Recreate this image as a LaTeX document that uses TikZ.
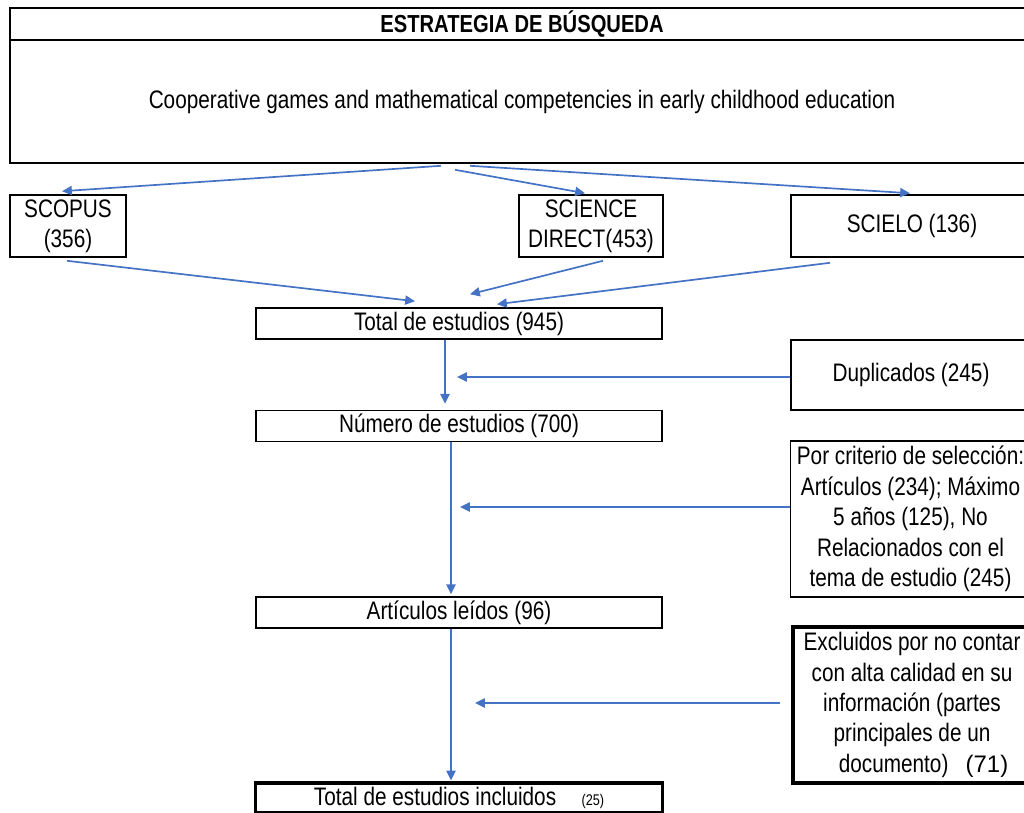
\documentclass[tikz,border=0pt]{standalone}
\usepackage{fontspec}
\setmainfont[FakeStretch=0.82]{Liberation Sans}
\newfontfamily\plainfont{Liberation Sans}
\usetikzlibrary{arrows.meta}
\definecolor{flowblue}{RGB}{68,114,196}
\tikzset{
  box/.style={draw, line width=1.1pt, inner sep=0pt, align=center,
    font=\fontsize{18}{21.6}\selectfont},
  heavybox/.style={box, line width=2.2pt},
  flow/.style={draw=flowblue, line width=1.2pt, -{Triangle[length=7pt,width=6.5pt]}},
}
\begin{document}
\begin{tikzpicture}[x=0.025cm, y=-0.025cm]
  \useasboundingbox (0,0) rectangle (1024,812);
  \clip (0,0) rectangle (1024,812);
  \node[box, minimum width=25.6cm, minimum height=0.8cm, font=\bfseries\fontsize{17.5}{21}\selectfont] (title) at (522,24) {ESTRATEGIA DE BÚSQUEDA};
  \node[box, minimum width=25.6cm, minimum height=3.075cm] (query) at (522,101.5) {Cooperative games and mathematical competencies in early childhood education};
  \node[box, minimum width=2.9cm, minimum height=1.55cm] (scopus) at (68,226) {SCOPUS\\(356)};
  \node[box, minimum width=3.6cm, minimum height=1.55cm] (scidir) at (591,226) {SCIENCE\\DIRECT(453)};
  \node[box, minimum width=6.05cm, minimum height=1.55cm] (scielo) at (912,226) {SCIELO (136)};
  \node[box, minimum width=10.15cm, minimum height=0.775cm] (total) at (459,323.5) {Total de estudios (945)};
  \node[box, minimum width=6cm, minimum height=1.75cm] (dupl) at (911,375) {Duplicados (245)};
  \node[box, minimum width=10.15cm, minimum height=0.775cm] (numero) at (459,426) {Número de estudios (700)};
  \node[box, minimum width=6cm, minimum height=3.9cm] (criterio) at (910.5,519) {Por criterio de selección:\\Artículos (234); Máximo\\5 años (125), No\\Relacionados con el\\tema de estudio (245)};
  \node[box, minimum width=10.15cm, minimum height=0.775cm] (leidos) at (459,612.5) {Artículos leídos (96)};
  \node[heavybox, minimum width=5.95cm, minimum height=3.9cm] (excl) at (912,705) {Excluidos por no contar\\con alta calidad en su\\información (partes\\principales de un\\\ \ \ \ documento)\ \ \ {\plainfont\fontsize{17}{21.6}\selectfont(71)}};
  \node[heavybox, minimum width=10.15cm, minimum height=0.75cm] (incl) at (459,798) {Total de estudios incluidos\quad{\fontsize{11}{13}\selectfont(25)}};

  \draw[flow] ([shift={(-81,2)}]query.south) -- ([shift={(-6,-3)}]scopus.north);
  \draw[flow] ([shift={(-67,6)}]query.south) -- ([shift={(-6,-1)}]scidir.north);
  \draw[flow] ([shift={(-52,2)}]query.south) -- ([shift={(-2,-1)}]scielo.north);
  \draw[flow] ([shift={(-1,3)}]scopus.south) -- ([shift={(-44,-6)}]total.north);
  \draw[flow] ([shift={(12,3)}]scidir.south) -- ([shift={(11,-13)}]total.north);
  \draw[flow] ([shift={(-82,5)}]scielo.south) -- ([shift={(38,-3)}]total.north);

  \draw[flow] ([xshift=-14*0.025cm]total.south) -- ([shift={(-14,-6)}]numero.north);
  \draw[flow] ([xshift=-8*0.025cm]numero.south) -- ([shift={(-8,-2)}]leidos.north);
  \draw[flow] ([xshift=-8*0.025cm]leidos.south) -- ([shift={(-8,-1)}]incl.north);

  \coordinate (dupin) at (457,377);
  \coordinate (critin) at (460,507);
  \coordinate (exclin) at (475,703);
  \draw[flow] (dupl.west |- dupin) -- (dupin);
  \draw[flow] (criterio.west |- critin) -- (critin);
  \draw[flow] ([xshift=-11*0.025cm]excl.west |- exclin) -- (exclin);
\end{tikzpicture}
\end{document}
